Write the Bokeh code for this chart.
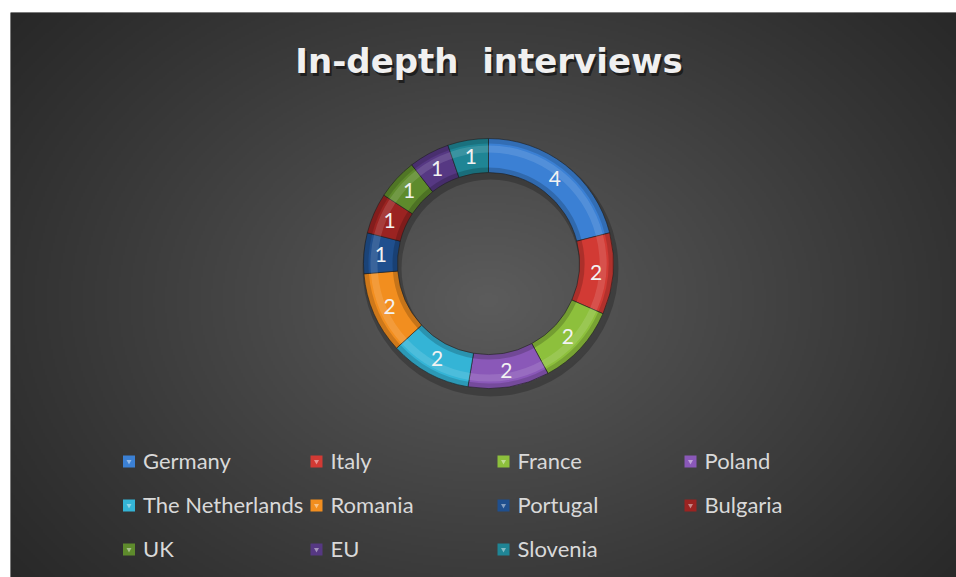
import numpy as np
from bokeh.plotting import figure
from bokeh.models import Range1d, ColumnDataSource
from bokeh.core.properties import value
from bokeh.embed import file_html
from bokeh.resources import INLINE

# ---- data ----
countries = ["Germany", "Italy", "France", "Poland", "The Netherlands", "Romania",
             "Portugal", "Bulgaria", "UK", "EU", "Slovenia"]
interviews = [4, 2, 2, 2, 2, 2, 1, 1, 1, 1, 1]
colors = ["#3b80d4", "#d23a34", "#8dc03c", "#8a58b8", "#34b4d6", "#f28e1f",
          "#1f4f8e", "#9b2321", "#5e8b2c", "#563883", "#1f8595"]
title_text = "In-depth \u00a0interviews"

# ---- canvas ----
W, H = 946, 565
p = figure(width=956, height=577, output_backend="svg", toolbar_location=None,
           x_range=Range1d(0, W), y_range=Range1d(0, H),
           x_axis_type=None, y_axis_type=None,
           min_border_left=10, min_border_top=12, min_border_right=0, min_border_bottom=0,
           border_fill_color="white", background_fill_color="#333333",
           outline_line_color=None)
p.grid.visible = False

# radial gradient background
nx, ny = 473, 283
xs = np.linspace(0, W, nx)
ys = np.linspace(0, H, ny)
X, Y = np.meshgrid(xs, ys)
d = np.sqrt(((X - 478) / 560.0) ** 2 + ((Y - 277) / 420.0) ** 2)
g = 38 + 54 * np.clip(1 - d / 1.15, 0, 1) ** 1.1
g = g.astype(np.uint32)
img = (255 << 24) | (g << 16) | (g << 8) | g
p.image_rgba(image=[img.astype(np.uint32)], x=0, y=0, dw=W, dh=H)

# ---- donut ----
cx, cy = 478, 314
r_in, r_out = 91, 125
total = float(sum(interviews))
cum = np.cumsum([0] + interviews)
start = [np.pi / 2 - 2 * np.pi * cum[i] / total for i in range(len(interviews))]
end = [np.pi / 2 - 2 * np.pi * cum[i + 1] / total for i in range(len(interviews))]
mid = [(s + e) / 2 for s, e in zip(start, end)]
src = ColumnDataSource(dict(start=start, end=end, color=colors,
                            lx=[cx + 108 * np.cos(m) for m in mid],
                            ly=[cy + 108 * np.sin(m) for m in mid],
                            lab=[str(v) for v in interviews]))

# soft shadow
p.annular_wedge(x=cx + 2, y=cy - 5, inner_radius=r_in - 2, outer_radius=r_out + 3,
                start_angle=0, end_angle=2 * np.pi, fill_color="black", fill_alpha=0.22,
                line_color=None)
p.annular_wedge(x=cx, y=cy, inner_radius=r_in, outer_radius=r_out,
                start_angle="start", end_angle="end", direction="clock",
                fill_color="color", line_color="#222222", line_alpha=0.6, line_width=1,
                source=src)
# bevel shading
p.annular_wedge(x=cx, y=cy, inner_radius=r_in, outer_radius=r_in + 5,
                start_angle="start", end_angle="end", direction="clock",
                fill_color="black", fill_alpha=0.18, line_color=None, source=src)
p.annular_wedge(x=cx, y=cy, inner_radius=r_out - 5, outer_radius=r_out,
                start_angle="start", end_angle="end", direction="clock",
                fill_color="black", fill_alpha=0.15, line_color=None, source=src)
p.annular_wedge(x=cx, y=cy, inner_radius=r_out - 14, outer_radius=r_out - 7,
                start_angle="start", end_angle="end", direction="clock",
                fill_color="white", fill_alpha=0.12, line_color=None, source=src)

p.text(x="lx", y="ly", text="lab", source=src, text_color="#f2f2f2",
       text_font=value("Lato"), text_font_size="21px",
       text_align="center", text_baseline="middle")

# ---- title ----
p.text(x=[480.5], y=[514], text=[title_text], text_color="black", text_alpha=0.5,
       text_font=value("DejaVu Sans"), text_font_style="bold", text_font_size="34px",
       text_align="center", text_baseline="middle")
p.text(x=[478.5], y=[517], text=[title_text], text_color="#f0f0f0",
       text_font=value("DejaVu Sans"), text_font_style="bold", text_font_size="34px",
       text_align="center", text_baseline="middle")

# ---- legend ----
col_x = [118.5, 306, 493, 680]
row_y = [116, 72, 28]
mx = [col_x[i % 4] for i in range(len(countries))]
my = [row_y[i // 4] for i in range(len(countries))]
lsrc = ColumnDataSource(dict(mx=mx, my=my, tx=[x + 14 for x in mx], ty=[y + 1.5 for y in my],
                             name=countries, color=colors))
p.scatter(x="mx", y="my", marker="square", size=12, fill_color="color",
          line_color=None, source=lsrc)
p.scatter(x="mx", y="my", marker="inverted_triangle", size=5, fill_color="white",
          fill_alpha=0.45, line_color=None, source=lsrc)
p.text(x="tx", y="ty", text="name", source=lsrc, text_color="#d9d9d9",
       text_font=value("Lato"), text_font_size="22px", text_baseline="middle")

open("out.html", "w").write(file_html(p, INLINE))
